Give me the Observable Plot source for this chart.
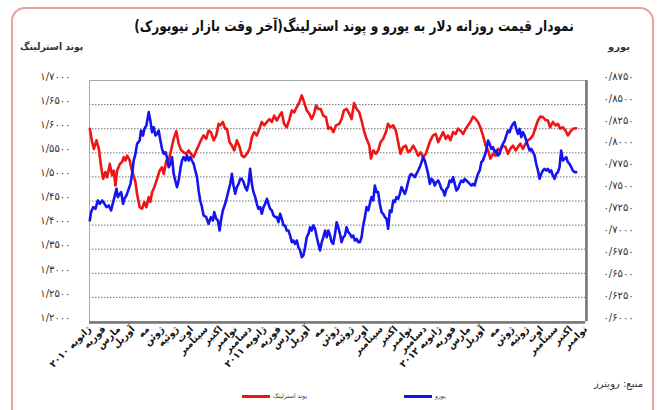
<!DOCTYPE html>
<html>
<head>
<meta charset="utf-8">
<script src="https://cdn.jsdelivr.net/npm/d3@7"></script>
<script src="https://cdn.jsdelivr.net/npm/@observablehq/plot@0.6"></script>
<style>
  html, body { margin: 0; padding: 0; background: #fff; }
  #wrap { position: relative; width: 663px; height: 410px; overflow: hidden; font-family: "DejaVu Sans", sans-serif; }
  #wrap svg { position: absolute; left: 0; top: 0; }
  .border { position: absolute; left: 11px; top: 7px; width: 643px; height: 430px; border: 2px solid #e8a0a0; border-radius: 14px; box-sizing: border-box; }
  .t { position: absolute; white-space: nowrap; color: #111; }
  .sw { position: absolute; height: 3px; }
</style>
</head>
<body>
<div id="wrap">
  <div class="border"></div>
</div>
<script>
// ---- data ----
const title = "نمودار قیمت روزانه دلار به یورو و پوند استرلینگ(آخر وقت بازار نیویورک)";
const leftTitle = "پوند استرلینگ";
const rightTitle = "یورو";
const source = "منبع: رویترز";
const seriesNames = ["پوند استرلینگ", "یورو"];

const xLabels = ["ژانویه ۲۰۱۰","فوریه","مارس","آوریل","مه","ژوئن","ژوئیه","اوت","سپتامبر","اکتبر","نوامبر","دسامبر",
  "ژانویه ۲۰۱۱","فوریه","مارس","آوریل","مه","ژوئن","ژوئیه","اوت","سپتامبر","اکتبر","نوامبر","دسامبر",
  "ژانویه ۲۰۱۲","فوریه","مارس","آوریل","مه","ژوئن","ژوئیه","اوت","سپتامبر","اکتبر","نوامبر"];

const gbpTicks = [1.20,1.25,1.30,1.35,1.40,1.45,1.50,1.55,1.60,1.65,1.70];
const eurTicks = [0.600,0.625,0.650,0.675,0.700,0.725,0.750,0.775,0.800,0.825,0.850,0.875];

// time position in months since Jan 2010
const gbpT = [0.02,0.18,0.30,0.48,0.64,0.80,0.94,1.09,1.21,1.39,1.55,1.66,1.78,1.89,2.08,2.23,2.35,2.46,2.58,2.76,
 2.85,2.99,3.15,3.26,3.44,3.60,3.76,3.90,4.06,4.17,4.29,4.45,4.63,4.81,4.97,5.09,5.27,5.43,5.59,5.77,
 5.95,6.11,6.27,6.45,6.64,6.80,6.96,7.14,7.32,7.48,7.64,7.82,8.00,8.16,8.32,8.51,8.69,8.85,8.96,9.14,
 9.30,9.42,9.60,9.76,9.92,10.10,10.29,10.44,10.60,10.79,10.97,11.13,11.29,11.47,11.65,11.81,11.97,12.16,12.34,12.50,
 12.66,12.84,13.02,13.18,13.34,13.52,13.71,13.87,14.03,14.21,14.39,14.55,14.71,14.89,15.07,15.23,15.39,15.53,15.69,15.85,
 16.03,16.21,16.37,16.53,16.72,16.90,
 17.12,17.28,17.44,17.62,17.81,17.97,18.13,18.31,18.49,18.65,18.81,18.99,19.18,19.29,19.45,19.63,19.79,19.95,20.13,20.32,
 20.47,20.63,20.82,21.00,21.16,21.32,21.50,21.68,21.84,22.00,22.19,22.37,22.53,22.69,22.87,23.05,23.21,23.37,23.55,23.74,
 23.90,24.06,24.24,24.42,24.58,24.74,24.92,25.10,25.26,25.42,25.61,25.79,25.95,26.11,26.29,26.47,26.63,26.79,26.97,27.16,
 27.32,27.48,27.66,27.84,28.00,28.16,28.34,28.52,28.68,28.84,29.03,29.21,29.37,29.53,29.71,29.89,30.05,30.21,30.40,30.58,
 30.74,30.90,31.08,31.26,31.42,31.58,31.76,31.95,32.11,32.27,32.45,32.63,32.79,32.95,33.13,33.36];
const gbpV = [1.600,1.572,1.558,1.576,1.558,1.520,1.496,1.510,1.499,1.527,1.503,1.513,1.482,1.513,1.527,1.531,1.541,1.534,1.544,1.534,
 1.520,1.506,1.489,1.465,1.437,1.434,1.448,1.437,1.458,1.448,1.468,1.479,1.496,1.513,1.520,1.506,1.534,1.534,1.555,1.579,
 1.595,1.569,1.556,1.551,1.548,1.555,1.547,1.541,1.555,1.565,1.576,1.586,1.579,1.596,1.593,1.576,1.586,1.610,1.607,1.614,
 1.600,1.600,1.572,1.565,1.555,1.576,1.562,1.544,1.541,1.548,1.558,1.582,1.593,1.586,1.600,1.614,1.607,1.614,1.620,1.614,
 1.627,1.617,1.627,1.634,1.610,1.603,1.620,1.638,1.634,1.645,1.655,1.669,1.655,1.638,1.631,1.620,1.631,1.648,1.641,1.641,
 1.627,1.624,1.600,1.603,1.593,1.607,
 1.610,1.620,1.638,1.641,1.631,1.620,1.653,1.641,1.634,1.617,1.596,1.579,1.565,1.538,1.555,1.548,1.555,1.572,1.579,1.593,
 1.610,1.603,1.607,1.596,1.572,1.548,1.562,1.565,1.551,1.555,1.565,1.555,1.544,1.551,1.541,1.548,1.562,1.576,1.586,1.589,
 1.572,1.582,1.593,1.579,1.586,1.576,1.593,1.589,1.600,1.596,1.589,1.600,1.607,1.614,1.625,1.620,1.614,1.603,1.586,1.565,
 1.555,1.538,1.548,1.544,1.558,1.555,1.565,1.562,1.548,1.558,1.565,1.555,1.562,1.569,1.558,1.569,1.576,1.579,1.586,1.603,
 1.617,1.625,1.624,1.618,1.617,1.603,1.614,1.607,1.610,1.600,1.603,1.596,1.586,1.593,1.600,1.601];

const eurT = [0.02,0.11,0.25,0.41,0.57,0.71,0.87,1.03,1.16,1.32,1.48,1.62,1.71,1.85,1.94,2.08,2.17,2.30,2.39,2.53,
 2.69,2.81,2.92,3.03,3.15,3.26,3.44,3.53,3.67,3.76,3.90,4.06,4.17,4.29,4.40,4.52,4.63,4.74,4.86,4.97,
 5.09,5.20,5.31,5.43,5.54,5.66,5.77,5.88,6.00,6.11,6.23,6.34,6.45,6.57,6.68,6.80,6.91,7.02,7.14,7.25,
 7.37,7.48,7.59,7.71,7.82,8.00,8.16,8.32,8.46,8.55,8.69,8.80,8.92,9.01,9.14,9.30,9.42,9.53,9.65,9.76,
 9.87,9.99,10.10,10.22,10.33,10.44,10.56,10.67,10.79,10.90,11.01,11.13,11.24,11.36,11.47,11.58,11.70,11.81,11.93,12.04,
 12.16,12.27,12.38,12.50,12.61,12.73,12.84,12.95,13.07,13.18,13.30,13.41,13.52,13.64,13.75,13.87,13.98,14.09,14.21,14.32,
 14.44,14.55,14.66,14.78,14.89,15.01,15.12,15.23,15.35,15.46,15.58,15.69,15.80,15.92,16.03,16.15,16.26,16.37,16.49,
 16.60,16.71,16.83,16.94,17.05,17.17,17.28,17.40,17.51,17.62,17.74,17.85,17.97,18.08,18.19,18.31,18.42,18.54,18.65,18.76,
 18.88,18.99,19.11,19.22,19.33,19.45,19.56,19.68,19.79,19.90,20.02,20.13,20.25,20.36,20.47,20.59,20.70,20.82,20.93,21.04,
 21.16,21.27,21.39,21.50,21.62,21.73,21.84,21.96,22.07,22.19,22.30,22.41,22.53,22.64,22.76,22.87,22.98,23.10,23.21,23.33,
 23.44,23.55,23.67,23.78,23.90,24.01,24.12,24.24,24.35,24.47,24.58,24.69,24.81,24.92,25.04,25.15,25.26,25.38,25.49,25.61,
 25.72,25.83,25.95,26.06,26.18,26.29,26.40,26.52,26.63,26.75,26.86,26.97,27.09,27.20,27.32,27.43,27.54,27.66,27.77,27.89,
 28.00,28.11,28.23,28.34,28.46,28.57,28.68,28.80,28.91,29.03,29.14,29.25,29.37,29.48,29.60,29.71,29.83,29.94,30.05,30.17,
 30.28,30.40,30.51,30.62,30.74,30.85,30.97,31.08,31.19,31.31,31.42,31.54,31.65,31.76,31.88,31.99,32.11,32.22,32.33,32.45,
 32.56,32.68,32.79,32.90,33.02,33.13,33.25,33.36];
const eurV = [0.7153,0.7248,0.7305,0.7286,0.7381,0.7343,0.7381,0.7343,0.7305,0.7324,0.7267,0.7362,0.7419,0.7514,0.7419,0.7457,0.7476,0.7343,0.7400,0.7438,
 0.7514,0.7571,0.7685,0.7837,0.7913,0.8027,0.8065,0.8179,0.8122,0.8198,0.8236,0.8389,0.8293,0.8160,0.8217,0.8122,0.8141,0.8179,0.8065,0.7970,
 0.7913,0.7932,0.7875,0.7761,0.7799,0.7875,0.7685,0.7609,0.7533,0.7609,0.7742,0.7837,0.7875,0.7837,0.7894,0.7837,0.7875,0.7837,0.7799,0.7723,
 0.7647,0.7495,0.7381,0.7305,0.7210,0.7191,0.7115,0.7191,0.7153,0.7248,0.7172,0.7153,0.7038,0.7153,0.7267,0.7343,0.7419,0.7495,0.7571,0.7685,
 0.7552,0.7457,0.7533,0.7571,0.7628,0.7628,0.7590,0.7533,0.7495,0.7571,0.7742,0.7571,0.7476,0.7419,0.7343,0.7286,0.7305,0.7229,0.7305,0.7343,
 0.7400,0.7343,0.7286,0.7267,0.7210,0.7191,0.7191,0.7133,0.7229,0.7172,0.7096,0.7096,0.7038,0.7038,0.6981,0.6905,0.6924,0.6886,0.6924,0.6848,
 0.6810,0.6734,0.6753,0.6848,0.6962,0.7000,0.7076,0.7038,0.7096,0.7058,0.6962,0.6886,0.6810,0.6905,0.6962,0.7038,0.6962,0.7038,0.6981,
 0.6905,0.6886,0.7000,0.7133,0.7076,0.7000,0.6905,0.6962,0.6981,0.7076,0.7019,0.7000,0.6962,0.6981,0.6924,0.6943,0.6905,0.6905,0.6962,0.7096,
 0.7191,0.7305,0.7267,0.7343,0.7419,0.7381,0.7552,0.7476,0.7476,0.7343,0.7248,0.7229,0.7191,0.7172,0.7058,0.7267,0.7248,0.7381,0.7362,0.7419,
 0.7400,0.7457,0.7533,0.7495,0.7457,0.7514,0.7590,0.7666,0.7685,0.7666,0.7647,0.7685,0.7723,0.7761,0.7818,0.7875,0.7837,0.7761,0.7685,0.7571,
 0.7628,0.7609,0.7552,0.7590,0.7609,0.7571,0.7514,0.7495,0.7438,0.7514,0.7533,0.7609,0.7590,0.7647,0.7571,0.7495,0.7514,0.7571,0.7609,0.7590,
 0.7628,0.7609,0.7590,0.7571,0.7552,0.7571,0.7552,0.7628,0.7685,0.7723,0.7818,0.7837,0.7894,0.7951,0.8065,0.8027,0.7970,0.7989,0.7932,0.7951,
 0.7894,0.7913,0.7989,0.8027,0.8065,0.8122,0.8179,0.8160,0.8217,0.8255,0.8274,0.8198,0.8141,0.8198,0.8103,0.8160,0.8122,0.8065,0.8008,0.7951,
 0.7970,0.7932,0.7894,0.7799,0.7723,0.7628,0.7685,0.7723,0.7742,0.7723,0.7742,0.7704,0.7723,0.7666,0.7628,0.7685,0.7704,0.7761,0.7951,0.7837,
 0.7856,0.7875,0.7818,0.7799,0.7761,0.7723,0.7704,0.7704];

// ---- helpers ----
const faDigits = "۰۱۲۳۴۵۶۷۸۹";
const fa = v => v.toFixed(4).replace(/\d/g, d => faDigits[+d]).replace(".", "/");
const L0 = gbpTicks[0], L1 = gbpTicks[gbpTicks.length - 1];
const R0 = eurTicks[0], R1 = eurTicks[eurTicks.length - 1];
const toLeft = v => L0 + (v - R0) * (L1 - L0) / (R1 - R0);
const fromLeft = y => R0 + (y - L0) * (R1 - R0) / (L1 - L0);

const gbp = gbpT.map((t, i) => ({t, v: gbpV[i]}));
const eur = eurT.map((t, i) => ({t, v: toLeft(eurV[i])}));

const chart = Plot.plot({
  width: 663, height: 410,
  marginTop: 80, marginBottom: 89, marginLeft: 89, marginRight: 78,
  x: {domain: [0, xLabels.length - 1]},
  y: {domain: [L0, L1]},
  style: {fontFamily: "DejaVu Sans, sans-serif", fontSize: "10px", background: "transparent", color: "#222"},
  marks: [
    Plot.gridY(gbpTicks.slice(1, -1), {stroke: "#666", strokeOpacity: 0.9, strokeDasharray: "1.5,1.5", strokeWidth: 1}),
    Plot.frame({stroke: "#aaa", strokeWidth: 1}),
    Plot.ruleX([xLabels.length - 1], {stroke: "#777", strokeWidth: 2.5, dx: 1}),
    Plot.ruleY([L0], {stroke: "#777", strokeWidth: 2.5, dy: 1}),
    Plot.axisY(gbpTicks, {anchor: "left", tickSize: 0, tickPadding: 19, tickFormat: fa, dy: -4, fill: "#333", fontSize: 10, label: null}),
    Plot.axisY(eurTicks.map(toLeft), {anchor: "right", tickSize: 0, tickPadding: 18, tickFormat: d => fa(fromLeft(d)), dy: -4, fill: "#333", fontSize: 10, label: null}),
    Plot.axisX(d3.range(xLabels.length), {anchor: "bottom", tickSize: 0, tickPadding: 6, tickRotate: -45, tickFormat: i => xLabels[i], fontWeight: "bold", fontSize: 9.5, fill: "#111", label: null}),
    Plot.line(gbp, {x: "t", y: "v", stroke: "#f01414", strokeWidth: 2.6, strokeLinejoin: "round"}),
    Plot.line(eur, {x: "t", y: "v", stroke: "#1414f0", strokeWidth: 2.6, strokeLinejoin: "round"})
  ]
});

const wrap = document.getElementById("wrap");
wrap.appendChild(chart);

function addText(txt, style) {
  const d = document.createElement("div");
  d.className = "t";
  d.dir = "rtl";
  d.textContent = txt;
  Object.assign(d.style, style);
  wrap.appendChild(d);
  return d;
}
addText(title, {left: "54px", width: "600px", textAlign: "center", top: "17px", fontSize: "15px", fontWeight: "bold", transform: "scaleX(0.81)", transformOrigin: "center"});
addText(leftTitle, {left: "20px", top: "41px", fontSize: "10px", fontWeight: "bold", color: "#333", transform: "scaleX(0.92)", transformOrigin: "left"});
addText(rightTitle, {left: "608px", top: "41px", fontSize: "10px", fontWeight: "bold", color: "#333"});
addText(source, {left: "594px", top: "378px", fontSize: "10px", color: "#333"});

// legend
const colors = ["#f01414", "#1414f0"];
const legX = [242, 404];
seriesNames.forEach((n, i) => {
  const s = document.createElement("div");
  s.className = "sw";
  Object.assign(s.style, {left: legX[i] + "px", top: "395px", width: "28px", background: colors[i]});
  wrap.appendChild(s);
  addText(n, {left: (legX[i] + 31) + "px", top: "392px", fontSize: "6px", color: "#333"});
});
</script>
</body>
</html>
